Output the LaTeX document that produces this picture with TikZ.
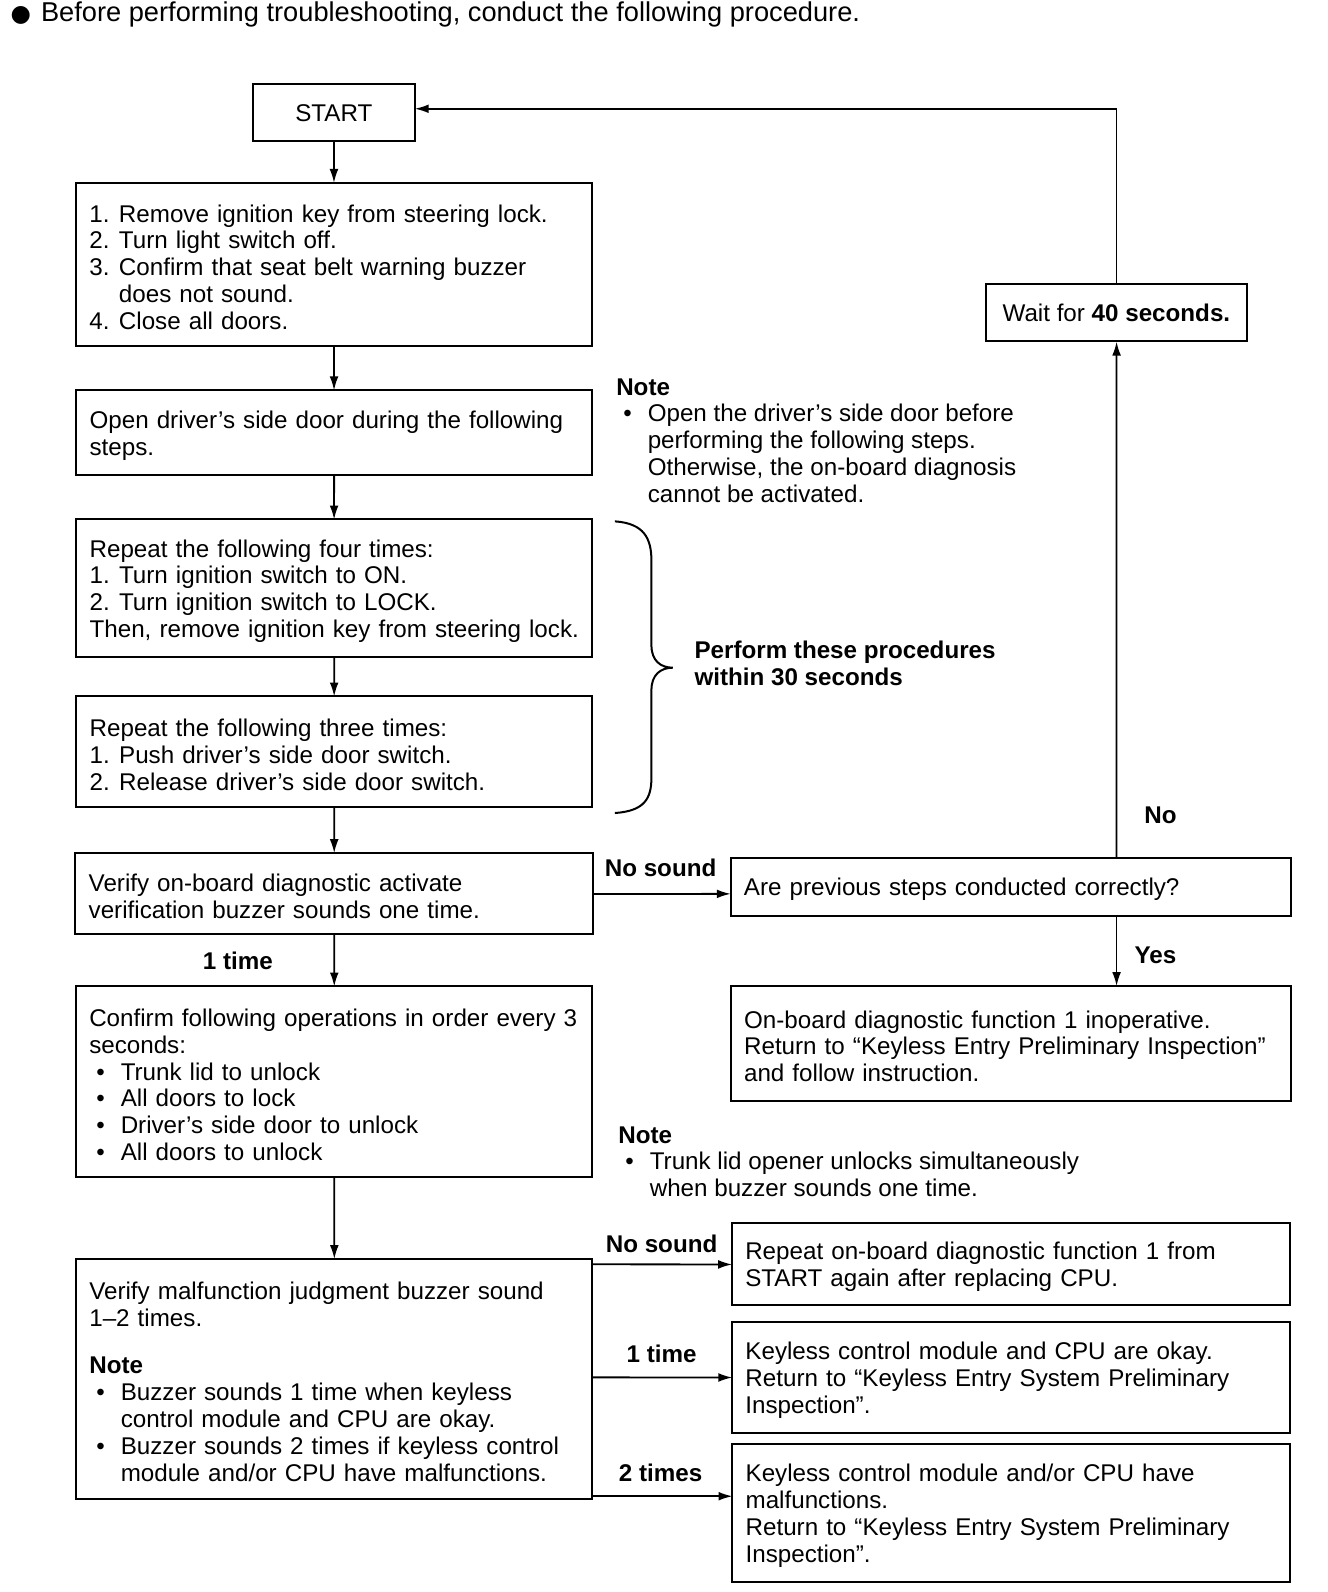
\documentclass[tikz,border=0pt]{standalone}
\usepackage{fontspec}
\setmainfont{Liberation Sans}
\newfontfamily\symfont{DejaVu Sans}
\usetikzlibrary{positioning,arrows.meta}

\newcommand{\boxfont}{\fontsize{11.9}{13.2}\selectfont}
\newcommand{\itm}[1]{\makebox[14.5pt][l]{#1}}
\newcommand{\bul}{\hspace*{3.5pt}\makebox[12pt][l]{\textbullet}}
\newcommand{\hang}{\hspace*{15.5pt}}

\begin{document}
\begin{tikzpicture}[x=0.5pt,y=-0.5pt,scale=1.0163,transform shape,
	stepbox/.style={draw,line width=1pt,outer sep=0pt,align=left,text width=#1,inner xsep=6.5pt,inner ysep=2pt,font=\boxfont,
		execute at begin node={\rule{0pt}{11.5pt}}},
	endbox/.style={draw,line width=1pt,outer sep=0pt,font=\boxfont},
	lbl/.style={font=\boxfont\bfseries,inner sep=0pt},
	note/.style={align=left,inner sep=0pt,font=\boxfont},
	arr/.style={-{Latex[length=7pt,width=4.4pt]},line width=0.9pt}]
		\useasboundingbox (0,0) rectangle (1306.7,1566.5);

		\node[anchor=base west,inner sep=0pt,font=\fontsize{13.4}{15}\selectfont] (intro) at (10,21) {\makebox[15pt][l]{\symfont\fontsize{11.5}{12}\selectfont ●}Before performing troubleshooting, conduct the following procedure.};

		% left column
		\node[endbox,minimum width=79.5pt,minimum height=28pt] (start) at (328.5,111) {START};
		\node[stepbox=240.5pt,minimum height=80pt] (keyoff) [below=20.5pt of start] {\itm{1.}Remove ignition key from steering lock.\\
			\itm{2.}Turn light switch off.\\
			\itm{3.}Confirm that seat belt warning buzzer\\
			\hspace*{14.5pt}does not sound.\\
			\itm{4.}Close all doors.};
		\node[stepbox=240.5pt,minimum height=41.5pt] (opendoor) [below=22pt of keyoff] {Open driver’s side door during the following\\steps.};
		\node[stepbox=240.5pt,minimum height=67.5pt] (ignition) [below=22pt of opendoor] {Repeat the following four times:\\
			\itm{1.}Turn ignition switch to ON.\\
			\itm{2.}Turn ignition switch to LOCK.\\
			\mbox{Then, remove ignition key from steering lock.}};
		\node[stepbox=240.5pt,minimum height=54.5pt] (doorsw) [below=19.5pt of ignition] {Repeat the following three times:\\
			\itm{1.}Push driver’s side door switch.\\
			\itm{2.}Release driver’s side door switch.};
		\node[stepbox=241.5pt,minimum height=40pt] (verify) [below=22.5pt of doorsw] {Verify on-board diagnostic activate\\verification buzzer sounds one time.};
		\node[stepbox=241pt,minimum height=94pt] (confirm) [below=25.5pt of verify] {\mbox{Confirm following operations in order every 3}\\
			seconds:\\
			\bul Trunk lid to unlock\\
			\bul All doors to lock\\
			\bul Driver’s side door to unlock\\
			\bul All doors to unlock};
		\node[stepbox=241pt,minimum height=118pt] (judge) [below=40pt of confirm] {Verify malfunction judgment buzzer sound\\
			1–2 times.\\[10pt]
			\textbf{Note}\\
			\bul Buzzer sounds 1 time when keyless\\
			\hang control module and CPU are okay.\\
			\bul Buzzer sounds 2 times if keyless control\\
			\hang module and/or CPU have malfunctions.};

		% right column
		\node[endbox,minimum width=128.5pt,minimum height=28.5pt] (wait) at (1098.5,307.5) {Wait for \textbf{40 seconds.}};
		\node[stepbox=262.5pt,minimum height=28.5pt] (check) at (994.5,872.5) {Are previous steps conducted correctly?};
		\node[stepbox=262.5pt,minimum height=56.5pt] (inop) [below=34.5pt of check] {On-board diagnostic function 1 inoperative.\\
			\mbox{Return to “Keyless Entry Preliminary Inspection”}\\
			and follow instruction.};
		\node[stepbox=261.5pt,minimum height=40.5pt] (replace) [below=60pt of inop] {Repeat on-board diagnostic function 1 from\\START again after replacing CPU.};
		\node[stepbox=261.5pt,minimum height=54.5pt] (okay) [below=8pt of replace] {Keyless control module and CPU are okay.\\
			Return to “Keyless Entry System Preliminary\\
			Inspection”.};
		\node[stepbox=261.5pt,minimum height=68pt] (malf) [below=5.5pt of okay] {Keyless control module and/or CPU have\\
			malfunctions.\\
			Return to “Keyless Entry System Preliminary\\
			Inspection”.};

		% notes
		\node[note,anchor=north west] (note1) at (606,372) {\textbf{Note}\\
			\bul Open the driver’s side door before\\
			\hang performing the following steps.\\
			\hang Otherwise, the on-board diagnosis\\
			\hang cannot be activated.};
		\node[note,anchor=north west] (note2) at (608,1108) {\textbf{Note}\\
			\bul Trunk lid opener unlocks simultaneously\\
			\hang when buzzer sounds one time.};

		% brace
		\draw[line width=1pt] (605,513) .. controls (634,515) and (641,530) .. (641,552) -- (641,635)
			.. controls (641,650) and (650,657) .. (662,657) .. controls (650,657) and (641,664) .. (641,679)
			-- (641,765) .. controls (641,786) and (634,798) .. (605,800);
		\node[lbl,anchor=west,align=left] (within) at (683,653) {Perform these procedures\\within 30 seconds};

		% labels
		\node[lbl,anchor=base] (nosnd) at (650,862) {No sound};
		\node[lbl,anchor=base] (no) at (1142,810) {No};
		\node[lbl,anchor=base] (yes) at (1137,948) {Yes};
		\node[lbl,anchor=base] (once) at (234,954) {1 time};
		\node[lbl,anchor=base] (nosndb) at (651,1232) {No sound};
		\node[lbl,anchor=base] (onceb) at (651,1341) {1 time};
		\node[lbl,anchor=base] (twice) at (650,1458) {2 times};

		% connectors
		\draw[arr] (start) -- (keyoff);
		\draw[arr] (keyoff) -- (opendoor);
		\draw[arr] (opendoor) -- (ignition);
		\draw[arr] (ignition) -- (doorsw);
		\draw[arr] (doorsw) -- (verify);
		\draw[arr] (verify) -- (confirm);
		\draw[arr] (confirm) -- (judge);
		\draw[arr] (verify) -- (check.west |- verify);
		\draw[arr] (check.north -| wait) -- (wait);
		\draw[arr] (wait.north) |- ([yshift=2pt]start.east);
		\draw[arr] (check.south -| wait) -- (inop.north -| wait);
		\draw[arr] (judge.east |- replace) -- (replace);
		\draw[arr] (judge.east |- okay) -- (okay);
		\coordinate (tw) at ([yshift=1.5pt]judge.south east);
		\draw[arr] (tw) -- (tw -| malf.west);
	\end{tikzpicture}
\end{document}
